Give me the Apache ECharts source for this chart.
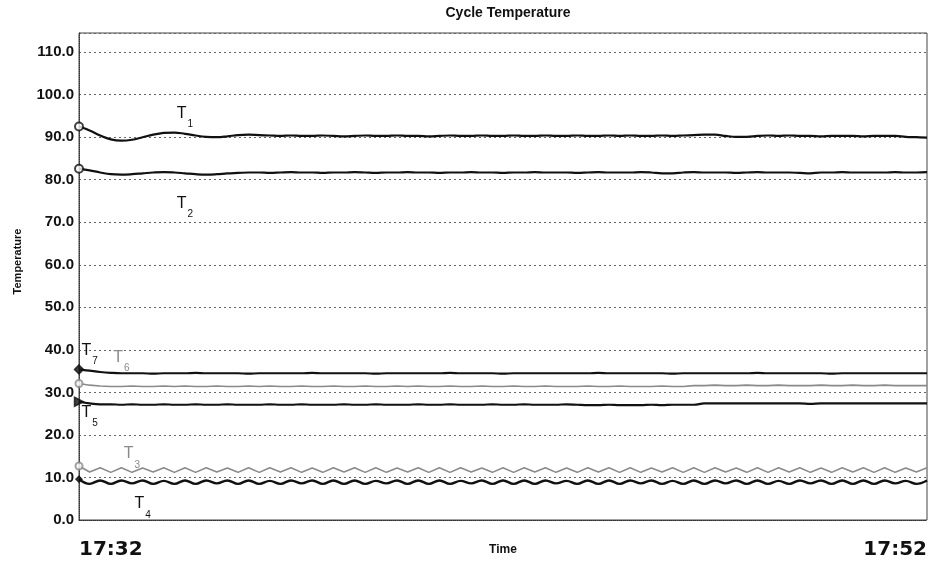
<!DOCTYPE html>
<html>
<head>
<meta charset="utf-8">
<script src="https://cdn.jsdelivr.net/npm/echarts@6/dist/echarts.min.js"></script>
<style>html,body{margin:0;padding:0;background:#fff;}#c{width:934px;height:569px;}</style>
</head>
<body>
<div id="c"></div>
<script>
const categories = [
'17:32:00','17:32:15','17:32:30','17:32:45','17:33:00','17:33:15','17:33:30','17:33:45',
'17:34:00','17:34:15','17:34:30','17:34:45','17:35:00','17:35:15','17:35:30','17:35:45',
'17:36:00','17:36:15','17:36:30','17:36:45','17:37:00','17:37:15','17:37:30','17:37:45',
'17:38:00','17:38:15','17:38:30','17:38:45','17:39:00','17:39:15','17:39:30','17:39:45',
'17:40:00','17:40:15','17:40:30','17:40:45','17:41:00','17:41:15','17:41:30','17:41:45',
'17:42:00','17:42:15','17:42:30','17:42:45','17:43:00','17:43:15','17:43:30','17:43:45',
'17:44:00','17:44:15','17:44:30','17:44:45','17:45:00','17:45:15','17:45:30','17:45:45',
'17:46:00','17:46:15','17:46:30','17:46:45','17:47:00','17:47:15','17:47:30','17:47:45',
'17:48:00','17:48:15','17:48:30','17:48:45','17:49:00','17:49:15','17:49:30','17:49:45',
'17:50:00','17:50:15','17:50:30','17:50:45','17:51:00','17:51:15','17:51:30','17:51:45',
'17:52:00'];
const xTickLabels = ['17:32', '17:52'];
const yTicks = [0, 10, 20, 30, 40, 50, 60, 70, 80, 90, 100, 110];

const T1 = [92.5,91.6,90.4,89.5,89.2,89.4,90.0,90.6,91.0,91.1,90.8,90.4,90.1,90.0,90.2,90.5,90.6,90.5,90.4,
90.3,90.4,90.3,90.3,90.4,90.3,90.2,90.3,90.4,90.3,
90.3,90.4,90.3,90.3,90.2,90.3,90.4,90.3,90.3,90.4,
90.3,90.3,90.4,90.3,90.3,90.4,90.3,90.3,90.4,90.3,
90.3,90.4,90.3,90.4,90.3,90.3,90.4,90.3,90.4,90.5,
90.6,90.6,90.3,90.1,90.1,90.3,90.4,90.3,90.4,90.3,
90.3,90.2,90.3,90.3,90.3,90.2,90.3,90.3,90.3,90.1,
90.0,89.9];
const T2 = [82.6,82.2,81.7,81.3,81.2,81.3,81.5,81.7,81.8,81.7,81.5,81.3,81.2,81.3,81.5,81.6,
81.7,81.7,81.6,81.7,81.8,81.7,81.7,81.6,81.7,81.7,
81.8,81.7,81.6,81.7,81.7,81.8,81.7,81.7,81.6,81.7,
81.7,81.8,81.7,81.7,81.6,81.7,81.7,81.8,81.7,81.7,
81.7,81.6,81.7,81.8,81.7,81.7,81.7,81.8,81.7,81.5,
81.5,81.7,81.8,81.7,81.7,81.7,81.6,81.7,81.8,81.7,
81.7,81.7,81.6,81.5,81.7,81.7,81.8,81.7,81.7,81.7,
81.7,81.8,81.7,81.7,81.8];
const T7 = [35.4,35.1,34.8,34.6,34.5,
34.5,34.5,34.4,34.5,34.5,34.5,34.6,34.5,34.5,34.5,
34.5,34.4,34.5,34.5,34.5,34.5,34.5,34.6,34.5,34.5,
34.5,34.5,34.5,34.4,34.5,34.5,34.5,34.5,34.5,34.5,
34.6,34.5,34.5,34.5,34.5,34.4,34.5,34.5,34.5,34.5,
34.5,34.5,34.5,34.5,34.6,34.5,34.5,34.5,34.5,34.5,
34.5,34.4,34.5,34.5,34.5,34.5,34.5,34.5,34.5,34.6,
34.5,34.5,34.5,34.5,34.5,34.5,34.4,34.5,34.5,34.5,
34.5,34.5,34.5,34.5,34.5,34.5];
const T6 = [32.1,31.7,31.5,31.4,
31.4,31.5,31.4,31.4,31.5,31.4,31.5,31.4,31.4,31.5,
31.4,31.4,31.5,31.4,31.5,31.4,31.4,31.5,31.4,31.4,
31.5,31.4,31.4,31.5,31.4,31.4,31.5,31.4,31.5,31.4,
31.4,31.5,31.4,31.4,31.5,31.4,31.4,31.5,31.4,31.4,
31.5,31.4,31.4,31.4,31.5,31.4,31.4,31.5,31.4,31.4,
31.4,31.5,31.4,31.4,31.6,31.6,31.7,31.6,31.6,31.7,
31.6,31.6,31.7,31.6,31.6,31.6,31.7,31.6,31.6,31.7,
31.6,31.6,31.7,31.6,31.6,31.6,31.6];
const T5 = [27.8,27.4,27.2,
27.2,27.1,27.2,27.1,27.1,27.2,27.1,27.1,27.2,27.1,
27.1,27.2,27.1,27.1,27.1,27.2,27.1,27.1,27.2,27.1,
27.1,27.1,27.2,27.1,27.1,27.2,27.1,27.1,27.1,27.2,
27.1,27.1,27.2,27.1,27.1,27.1,27.2,27.1,27.1,27.2,
27.1,27.1,27.1,27.2,27.1,27.0,27.0,27.1,27.0,27.0,
27.0,27.1,27.0,27.1,27.1,27.1,27.4,27.4,27.4,27.4,
27.4,27.4,27.4,27.4,27.4,27.4,27.3,27.4,27.4,27.4,
27.4,27.4,27.4,27.4,27.4,27.4,27.4,27.4];
const T3 = [12.7,
11.3,12.3,11.2,12.3,11.2,12.2,11.3,12.3,11.2,12.3,
11.2,12.3,11.3,12.2,11.2,12.3,11.2,12.3,11.3,12.3,
11.2,12.2,11.2,12.3,11.3,12.3,11.2,12.3,11.2,12.2,
11.3,12.3,11.2,12.3,11.2,12.3,11.3,12.2,11.2,12.3,
11.2,12.3,11.3,12.3,11.2,12.2,11.2,12.3,11.3,12.3,
11.2,12.3,11.2,12.2,11.3,12.3,11.2,12.3,11.2,12.3,
11.3,12.2,11.2,12.3,11.2,12.3,11.3,12.3,11.2,12.2,
11.2,12.3,11.3,12.3,11.2,12.3,11.2,12.2,11.3,12.3];
const T4 = [9.6,
8.5,9.3,8.5,9.3,8.6,9.3,8.5,9.2,8.5,9.3,
8.5,9.3,8.6,9.3,8.5,9.3,8.5,9.2,8.5,9.3,
8.6,9.3,8.5,9.3,8.5,9.3,8.5,9.2,8.6,9.3,
8.5,9.3,8.5,9.3,8.5,9.2,8.6,9.3,8.5,9.3,
8.5,9.3,8.5,9.3,8.6,9.2,8.5,9.3,8.5,9.3,
8.5,9.3,8.6,9.3,8.5,9.2,8.5,9.3,8.5,9.3,
8.6,9.3,8.5,9.3,8.5,9.2,8.5,9.3,8.6,9.3,
8.5,9.3,8.5,9.3,8.5,9.3,8.6,9.2,8.5,9.3];

const seriesNames = ['1', '2', '7', '6', '5', '3', '4'];
const seriesData = [T1, T2, T7, T6, T5, T3, T4];
// label anchors [category index, value]
const labelAnchors = [[10.0, 94.6], [9.9, 73.5], [0.9, 39.0], [4.4, 37.3], [1.1, 24.4], [5.4, 14.6], [5.5, 2.8]];

const colors = ['#111', '#111', '#111', '#8a8a8a', '#111', '#8a8a8a', '#111'];
const widths = [2.2, 2.2, 2.2, 1.6, 2.2, 1.6, 2.4];
const smooths = [true, true, true, false, true, false, true];
const startSymbols = ['emptyCircle', 'emptyCircle', 'diamond', 'emptyCircle', 'triangle', 'emptyCircle', 'diamond'];
const startSizes = [8, 8, 9, 7, 9, 7, 6];
const startRotate = [0, 0, 0, 0, -90, 0, 0];

const series = [];
seriesData.forEach((d, i) => {
  series.push({
    name: 'T' + seriesNames[i],
    type: 'line',
    data: d,
    symbol: 'none',
    smooth: smooths[i] ? 0.4 : false,
    lineStyle: { color: colors[i], width: widths[i] },
    z: 3,
    markPoint: {
      symbol: 'circle', symbolSize: 0,
      silent: true,
      label: {
        show: true, position: 'inside',
        formatter: '{t|T}{s|' + seriesNames[i] + '}',
        rich: {
          t: { fontFamily: 'Liberation Sans, Arial', fontSize: 16, color: colors[i], lineHeight: 16, verticalAlign: 'top' },
          s: { fontFamily: 'Liberation Sans, Arial', fontSize: 10, color: colors[i], lineHeight: 24, verticalAlign: 'bottom', padding: [0, 0, 0, 1] }
        }
      },
      data: [{ coord: labelAnchors[i] }]
    }
  });
  series.push({
    type: 'scatter',
    data: [[0, d[0]]],
    symbol: startSymbols[i],
    symbolSize: startSizes[i],
    symbolRotate: startRotate[i],
    itemStyle: { color: colors[i], borderColor: colors[i], borderWidth: 1.5 },
    z: 4,
    silent: true
  });
});

const chart = echarts.init(document.getElementById('c'));
chart.setOption({
  animation: false,
  backgroundColor: '#fff',
  title: {
    text: 'Cycle Temperature',
    left: 503, top: 1, textAlign: 'center',
    textStyle: { fontFamily: 'Liberation Sans, Arial', fontSize: 14, fontWeight: 'bold', color: '#111' }
  },
  grid: { left: 79, right: 7, top: 33, bottom: 49, show: true, borderColor: '#444', borderWidth: 1, outerBoundsMode: 'none', containLabel: false },
  xAxis: {
    type: 'category',
    data: categories,
    boundaryGap: false,
    name: 'Time',
    nameLocation: 'middle',
    nameGap: 24,
    nameMoveOverlap: false,
    nameTextStyle: { fontFamily: 'Liberation Sans, Arial', fontSize: 12, fontWeight: 'bold', color: '#111' },
    axisLine: { lineStyle: { color: '#333', type: 'dotted', width: 1 } },
    axisTick: { show: false },
    splitLine: { show: false },
    axisLabel: {
      interval: (idx) => idx === 0 || idx === categories.length - 1,
      formatter: (v, idx) => idx === 0 ? xTickLabels[0] : xTickLabels[1],
      alignMinLabel: 'left', alignMaxLabel: 'right',
      margin: 20,
      fontFamily: 'DejaVu Sans, Liberation Sans', fontSize: 20, fontWeight: 'bold', color: '#111'
    }
  },
  yAxis: {
    type: 'value',
    min: 0, max: 114.5, interval: 10,
    name: 'Temperature',
    nameLocation: 'middle',
    nameGap: 56,
    nameMoveOverlap: false,
    nameTextStyle: { fontFamily: 'Liberation Sans, Arial', fontSize: 11, fontWeight: 'bold', color: '#111', padding: [0, 0, 0, 30] },
    axisLine: { show: true, lineStyle: { color: '#333', type: 'dotted', width: 1 } },
    axisTick: { show: false },
    axisLabel: {
      showMaxLabel: false,
      formatter: (v) => yTicks.indexOf(v) >= 0 ? v.toFixed(1) : '',
      margin: 5,
      fontFamily: 'Liberation Sans, Arial', fontSize: 15, fontWeight: 'bold', color: '#111'
    },
    splitLine: { show: true, lineStyle: { color: '#666', type: [2, 3], width: 1 } }
  },
  series: series
});
</script>
</body>
</html>
